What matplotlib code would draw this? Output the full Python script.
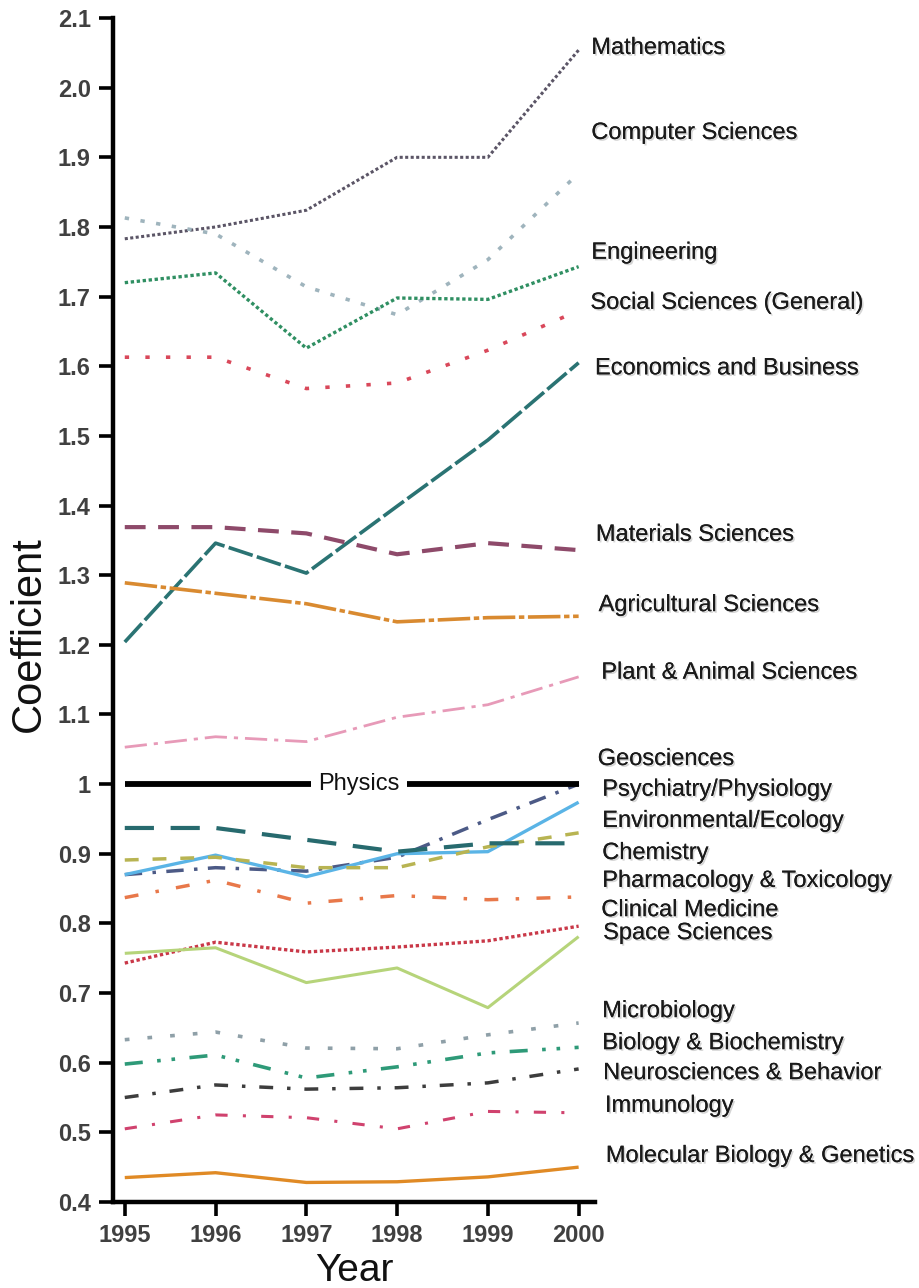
import matplotlib
matplotlib.use("Agg")
import matplotlib.pyplot as plt
import matplotlib.patheffects as pe

plt.rcParams['font.family'] = ['Liberation Sans', 'DejaVu Sans']

years = [1995, 1996, 1997, 1998, 1999, 2000]

mathematics = [1.783, 1.800, 1.824, 1.900, 1.900, 2.054]
computer_sciences = [1.813, 1.790, 1.714, 1.674, 1.753, 1.877]
engineering = [1.720, 1.734, 1.626, 1.698, 1.696, 1.743]
social_sciences = [1.613, 1.613, 1.568, 1.576, 1.623, 1.680]
economics_business = [1.204, 1.346, 1.303, 1.399, 1.494, 1.605]
materials_sciences = [1.369, 1.369, 1.360, 1.330, 1.346, 1.336]
agricultural_sciences = [1.289, 1.274, 1.259, 1.233, 1.239, 1.241]
plant_animal = [1.053, 1.068, 1.061, 1.096, 1.114, 1.154]
physics = [1.0, 1.0, 1.0, 1.0, 1.0, 1.0]
geosciences = [0.870, 0.880, 0.875, 0.895, 0.949, 1.000]
psychiatry_physiology = [0.870, 0.898, 0.867, 0.900, 0.903, 0.974]
environmental_ecology = [0.891, 0.895, 0.880, 0.880, 0.910, 0.930]
chemistry = [0.937, 0.937, 0.920, 0.903, 0.915, 0.915]
pharmacology = [0.837, 0.862, 0.829, 0.840, 0.834, 0.838]
clinical_medicine = [0.743, 0.773, 0.759, 0.766, 0.775, 0.796]
space_sciences = [0.757, 0.765, 0.715, 0.736, 0.679, 0.781]
microbiology = [0.633, 0.644, 0.621, 0.620, 0.640, 0.657]
biology_biochemistry = [0.598, 0.611, 0.578, 0.594, 0.614, 0.622]
neurosciences = [0.550, 0.568, 0.562, 0.564, 0.571, 0.591]
immunology = [0.505, 0.525, 0.521, 0.505, 0.530, 0.528]
molecular_biology = [0.435, 0.442, 0.428, 0.429, 0.436, 0.450]

label_names = ["Mathematics", "Computer Sciences", "Engineering",
               "Social Sciences (General)", "Economics and Business",
               "Materials Sciences", "Agricultural Sciences",
               "Plant & Animal Sciences", "Geosciences",
               "Psychiatry/Physiology", "Environmental/Ecology", "Chemistry",
               "Pharmacology & Toxicology", "Clinical Medicine",
               "Space Sciences", "Microbiology", "Biology & Biochemistry",
               "Neurosciences & Behavior", "Immunology",
               "Molecular Biology & Genetics"]
label_y = [2.057, 1.935, 1.763, 1.691, 1.597, 1.358, 1.257, 1.160, 1.036,
           0.992, 0.947, 0.901, 0.861, 0.819, 0.786, 0.674, 0.628, 0.585,
           0.538, 0.466]
label_x = [2000.14, 2000.14, 2000.14, 2000.13, 2000.18, 2000.19, 2000.22,
           2000.25, 2000.21, 2000.26, 2000.26, 2000.26, 2000.26, 2000.25,
           2000.27, 2000.26, 2000.26, 2000.27, 2000.29, 2000.30]

ytick_vals = [2.1, 2.0, 1.9, 1.8, 1.7, 1.6, 1.5, 1.4, 1.3, 1.2, 1.1, 1.0,
              0.9, 0.8, 0.7, 0.6, 0.5, 0.4]
ytick_labels = ["2.1", "2.0", "1.9", "1.8", "1.7", "1.6", "1.5", "1.4", "1.3",
                "1.2", "1.1", "1", "0.9", "0.8", "0.7", "0.6", "0.5", "0.4"]

series = [
    (mathematics, '#5b5566', (0, (1, 0.8)), 2.2),
    (computer_sciences, '#9fb4bd', (0, (1.2, 3.2)), 2.6),
    (engineering, '#2f8f62', (0, (1, 0.8)), 2.4),
    (social_sciences, '#d9485a', (0, (1.2, 4.5)), 2.6),
    (economics_business, '#2a7373', (0, (7, 1.2)), 2.6),
    (materials_sciences, '#8e4a6a', (0, (5, 3)), 3.0),
    (agricultural_sciences, '#d98a30', (0, (9, 1, 1.5, 1)), 2.6),
    (plant_animal, '#e79ab8', (0, (8, 2.5, 1.5, 2.5)), 2.0),
    (geosciences, '#4c5a86', (0, (5, 3, 1, 3)), 2.5),
    (psychiatry_physiology, '#5ab4e6', '-', 2.4),
    (environmental_ecology, '#b8b452', (0, (4, 4)), 2.5),
    (chemistry, '#276a6e', (0, (7, 4)), 3.0),
    (pharmacology, '#e8784a', (0, (4, 5, 1, 5)), 2.5),
    (clinical_medicine, '#c93848', (0, (1, 0.8)), 2.4),
    (space_sciences, '#b6d47a', '-', 2.2),
    (microbiology, '#8fa0a8', (0, (1.3, 5)), 2.6),
    (biology_biochemistry, '#2e9a78', (0, (5, 4, 1, 3, 1, 4)), 2.6),
    (neurosciences, '#3d3d3d', (0, (4, 4, 1, 4)), 2.5),
    (immunology, '#d0426e', (0, (4, 5, 1, 5)), 2.2),
    (molecular_biology, '#e08a25', '-', 2.4),
]

fig = plt.figure(figsize=(9.2, 12.88), dpi=100)
ax = fig.add_axes([0.1228, 0.0668, 0.5239, 0.9192])

for vals, col, ls, lw in series:
    ax.plot(years, vals, color=col, linestyle=ls, linewidth=lw,
            solid_capstyle='butt', dash_capstyle='butt')

ax.plot(years, physics, color='black', linewidth=4.2, solid_capstyle='butt')
ax.text(1997.58, 1.0, "Physics", fontsize=17, color='#111111',
        ha='center', va='center', zorder=5,
        bbox=dict(boxstyle='square,pad=0.32', fc='white', ec='none'))

ax.set_xlim(1994.87, 2000.18)
ax.set_ylim(0.4, 2.1)
ax.set_xticks(years)
ax.set_xticklabels([str(y) for y in years], fontsize=17, fontweight='bold',
                   color='#404040')
ax.set_yticks(ytick_vals)
ax.set_yticklabels(ytick_labels, fontsize=17, fontweight='bold',
                   color='#404040')
ax.tick_params(axis='both', direction='out', length=10, width=2.6, pad=6)

for side in ['top', 'right']:
    ax.spines[side].set_visible(False)
for side in ['left', 'bottom']:
    ax.spines[side].set_linewidth(3.2)
    ax.spines[side].set_capstyle('projecting')

ax.set_xlabel("Year", fontsize=28, color='#111111', labelpad=4)
ax.set_ylabel("Coefficient", fontsize=30, color='#111111')
ax.yaxis.set_label_coords(-0.133, 0.48)

shadow = [pe.withSimplePatchShadow(offset=(1.2, -1.2), shadow_rgbFace='#888888',
                                   alpha=0.35), pe.Normal()]
for name, lx, ly in zip(label_names, label_x, label_y):
    ax.text(lx, ly, name, fontsize=17, color='#1a1a1a', ha='left',
            va='center', clip_on=False, path_effects=shadow)

fig.savefig("out.png", dpi=100, facecolor='white')
